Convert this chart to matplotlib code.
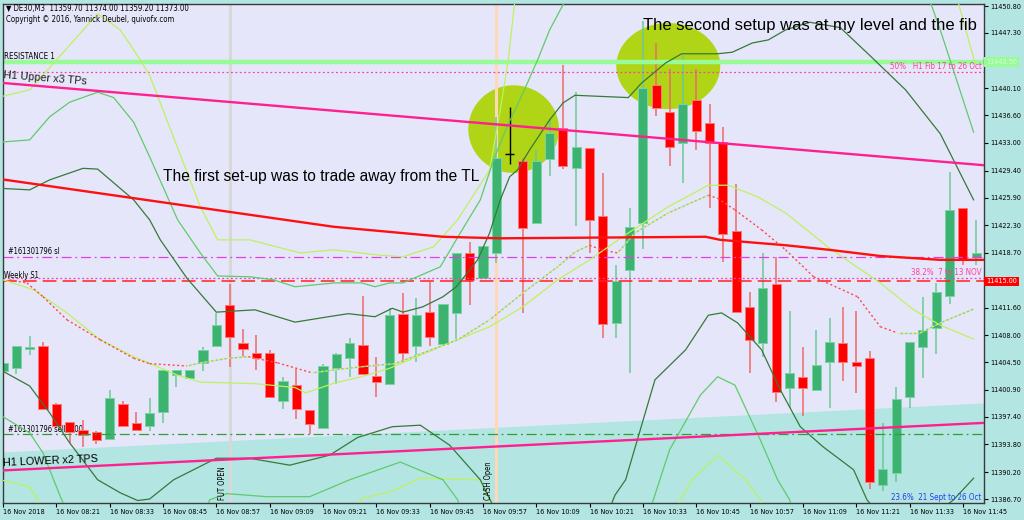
import matplotlib
matplotlib.use("Agg")
import matplotlib.pyplot as plt
from matplotlib.patches import Ellipse
from matplotlib import font_manager
import matplotlib.transforms as mtransforms

# ---------------- data ----------------
opens = [11403.4, 11403.7, 11406.2, 11406.6, 11399.1, 11396.7, 11395.7, 11395.4, 11394.5, 11399.1,
         11396.6, 11396.2, 11398.0, 11402.8, 11402.4, 11404.4, 11406.6, 11411.9, 11407.0, 11405.7,
         11405.7, 11399.5, 11401.5, 11398.3, 11395.9, 11403.7, 11405.0, 11406.7, 11402.7, 11401.7,
         11410.8, 11406.6, 11411.0, 11406.9, 11410.9, 11418.7, 11415.4, 11418.7, 11431.6, 11430.7,
         11422.6, 11430.9, 11435.0, 11429.7, 11432.4, 11423.5, 11409.6, 11416.5, 11422.6, 11440.5,
         11437.0, 11433.0, 11438.6, 11435.6, 11433.1, 11421.6, 11411.7, 11407.0, 11414.7, 11401.1,
         11402.6, 11400.9, 11404.5, 11407.0, 11404.5, 11405.0, 11388.5, 11390.1, 11400.0, 11406.5,
         11409.0, 11413.1, 11424.5, 11418.2]
highs = [11405.6, 11406.6, 11407.9, 11407.1, 11399.2, 11396.7, 11397.0, 11395.5, 11400.9, 11399.5,
         11398.0, 11399.8, 11403.5, 11403.5, 11403.5, 11406.5, 11410.9, 11414.7, 11408.8, 11408.0,
         11406.1, 11402.6, 11403.6, 11398.3, 11404.3, 11405.7, 11407.6, 11413.1, 11405.2, 11411.5,
         11413.5, 11412.8, 11414.9, 11412.1, 11418.7, 11420.1, 11419.6, 11436.4, 11437.7, 11431.1,
         11432.1, 11436.3, 11443.1, 11439.6, 11432.4, 11429.1, 11417.1, 11424.5, 11448.8, 11446.0,
         11442.6, 11444.4, 11442.6, 11438.1, 11435.1, 11427.7, 11413.6, 11418.7, 11418.2, 11411.2,
         11406.5, 11408.7, 11410.2, 11411.7, 11411.2, 11406.0, 11396.6, 11401.3, 11407.1, 11413.0,
         11414.8, 11429.2, 11424.5, 11423.0]
lows = [11403.0, 11403.0, 11405.4, 11398.4, 11396.2, 11394.0, 11393.5, 11393.9, 11394.5, 11396.2,
        11395.7, 11395.5, 11396.6, 11401.3, 11402.3, 11403.4, 11406.6, 11403.9, 11405.2, 11403.5,
        11400.0, 11398.4, 11397.1, 11395.2, 11395.9, 11401.7, 11402.6, 11403.0, 11400.0, 11401.7,
        11404.4, 11404.5, 11406.6, 11406.6, 11407.5, 11411.9, 11415.4, 11417.4, 11430.3, 11410.9,
        11422.6, 11428.7, 11429.6, 11422.2, 11418.7, 11407.6, 11407.6, 11403.1, 11419.2, 11436.5,
        11430.0, 11427.8, 11432.1, 11424.5, 11417.5, 11410.9, 11403.1, 11405.2, 11399.3, 11398.5,
        11397.5, 11400.9, 11398.5, 11402.0, 11400.5, 11388.0, 11387.7, 11388.9, 11398.5, 11402.4,
        11405.6, 11412.1, 11417.1, 11417.1]
closes = [11404.4, 11406.6, 11406.5, 11398.4, 11396.2, 11395.4, 11395.0, 11394.4, 11399.8, 11396.2,
          11395.7, 11397.9, 11403.5, 11403.5, 11403.5, 11406.1, 11409.3, 11407.8, 11406.2, 11405.0,
          11400.0, 11402.1, 11398.4, 11396.5, 11404.0, 11405.6, 11407.0, 11403.0, 11401.9, 11410.6,
          11405.7, 11410.6, 11407.8, 11412.1, 11418.7, 11415.2, 11419.6, 11431.0, 11431.6, 11421.9,
          11430.7, 11434.3, 11430.0, 11432.5, 11423.0, 11409.5, 11415.0, 11422.1, 11440.2, 11437.5,
          11432.5, 11438.1, 11434.6, 11433.0, 11421.2, 11411.0, 11407.4, 11414.1, 11400.6, 11403.1,
          11401.1, 11404.1, 11407.1, 11404.5, 11404.0, 11388.9, 11390.6, 11399.7, 11407.1, 11408.7,
          11413.6, 11424.3, 11417.8, 11418.7]

time_labels = ["16 Nov 2018", "16 Nov 08:21", "16 Nov 08:33", "16 Nov 08:45", "16 Nov 08:57",
               "16 Nov 09:09", "16 Nov 09:21", "16 Nov 09:33", "16 Nov 09:45", "16 Nov 09:57",
               "16 Nov 10:09", "16 Nov 10:21", "16 Nov 10:33", "16 Nov 10:45", "16 Nov 10:57",
               "16 Nov 11:09", "16 Nov 11:21", "16 Nov 11:33", "16 Nov 11:45"]
price_ticks = [11450.80, 11447.30, 11440.10, 11436.60, 11433.00, 11429.40, 11425.90, 11422.30,
               11418.70, 11411.60, 11408.00, 11404.50, 11400.90, 11397.40, 11393.80, 11390.20, 11386.70]

# indicator lines (bar index, price)
dk_up_x = [-0.2, 2.0, 3.5, 6.0, 7.1, 9.8, 11.0, 11.8, 13.8, 16.0, 18.9, 21.9, 24.4, 25.9, 27.9, 29.2,
           30.0, 31.5, 33.0, 34.0, 35.6, 36.5, 37.3, 38.0, 38.6, 39.5, 41.0, 42.0, 42.9, 46.9, 47.9,
           49.7, 50.9, 53.6, 54.7, 56.2, 57.4, 58.7, 60.5, 62.8, 65.0, 67.7, 70.3, 72.8]
dk_up_y = [11427.1, 11426.9, 11428.2, 11429.7, 11429.6, 11425.6, 11423.0, 11420.4, 11415.4, 11411.0,
           11411.3, 11409.7, 11410.4, 11410.8, 11410.4, 11411.5, 11411.0, 11411.7, 11413.0, 11414.3,
           11417.8, 11421.3, 11425.6, 11428.6, 11429.5, 11432.1, 11436.0, 11438.2, 11439.2, 11438.9,
           11440.8, 11443.4, 11444.6, 11444.6, 11444.8, 11446.0, 11446.4, 11447.7, 11448.7, 11448.0,
           11444.4, 11439.9, 11434.2, 11425.6]
dk_lo_x = [-0.2, 2.0, 3.5, 5.0, 7.1, 8.8, 10.1, 11.0, 12.8, 16.0, 18.5, 21.5, 24.5, 26.6, 29.2, 31.3,
           33.5, 35.8, 36.9, 38.8, 44.0, 45.9, 46.7, 48.9, 51.2, 52.9, 53.9, 55.1, 56.9, 58.3, 59.8,
           61.5, 63.8, 64.8, 67.3, 70.3, 71.3, 72.8]
dk_lo_y = [11403.5, 11401.4, 11397.9, 11394.0, 11389.2, 11387.5, 11386.5, 11386.7, 11389.2, 11392.0,
           11392.0, 11391.1, 11392.4, 11394.7, 11396.1, 11396.3, 11393.7, 11389.2, 11385.3, 11378.8,
           11378.8, 11387.2, 11389.2, 11402.2, 11406.1, 11410.6, 11410.9, 11409.6, 11406.1, 11400.9,
           11396.1, 11393.5, 11390.5, 11386.6, 11381.4, 11385.3, 11386.6, 11389.4]
md_up_x = [-0.2, 2.0, 3.5, 5.0, 7.1, 8.3, 9.8, 11.0, 13.1, 14.8, 16.1, 18.5, 20.3, 21.9, 24.9, 26.9,
           27.9, 29.0, 30.0, 32.8, 34.3, 35.8, 36.8, 37.8, 39.0, 40.1, 41.0, 42.2, 43.3, 67.3, 69.5,
           70.3, 72.8]
md_up_y = [11433.1, 11433.4, 11436.4, 11438.3, 11439.6, 11438.9, 11435.7, 11431.2, 11423.0, 11418.7,
           11415.7, 11415.6, 11415.2, 11414.3, 11414.8, 11414.8, 11414.3, 11414.8, 11414.8, 11416.9,
           11421.3, 11425.6, 11430.8, 11435.1, 11439.5, 11443.8, 11447.7, 11451.6, 11456.8, 11456.8,
           11451.6, 11447.7, 11434.4]
md_lo_x = [-0.2, 2.0, 3.0, 3.8, 4.4, 5.8, 14.4, 15.5, 16.8, 19.8, 23.0, 26.0, 29.8, 33.0, 34.1, 35.0,
           47.8, 50.0, 52.3, 53.6, 54.9, 56.8, 58.1, 59.0, 59.8, 73.6]
md_lo_y = [11397.6, 11395.3, 11392.7, 11389.2, 11386.6, 11381.4, 11381.4, 11386.6, 11387.4, 11387.0,
           11387.0, 11389.2, 11391.5, 11389.2, 11386.6, 11381.4, 11381.4, 11393.1, 11400.2, 11402.6,
           11401.5, 11394.4, 11389.2, 11386.6, 11381.4, 11381.4]
ch_up_x = [-0.2, 2.0, 7.1, 8.8, 10.3, 11.0, 14.8, 16.1, 18.5, 22.3, 24.8, 28.3, 30.0, 32.3, 34.1, 36.5,
           37.3, 37.9, 38.4, 38.9, 70.7, 71.6, 72.9]
ch_up_y = [11439.0, 11439.9, 11449.8, 11447.7, 11443.8, 11441.8, 11424.7, 11420.4, 11420.4, 11418.7,
           11419.1, 11418.4, 11418.2, 11419.5, 11423.0, 11429.5, 11437.3, 11443.8, 11451.6, 11456.8,
           11456.8, 11451.6, 11443.4]
ch_lo_x = [-0.2, 2.0, 2.6, 3.2, 25.7, 26.9, 29.0, 31.3, 35.8, 36.5, 37.3, 50.0, 50.8, 51.7, 53.6, 55.7,
           56.8, 57.5, 73.6]
ch_lo_y = [11389.2, 11388.3, 11386.6, 11381.4, 11381.4, 11386.8, 11387.6, 11389.4, 11389.2, 11386.6,
           11381.4, 11381.4, 11386.6, 11389.2, 11392.4, 11389.2, 11386.6, 11381.4, 11381.4]
ch_mid_x = [0.0, 2.3, 4.8, 7.3, 9.8, 11.6, 13.1, 14.8, 18.9, 21.9, 22.7, 24.9, 26.9, 29.0, 32.8, 36.5,
            39.0, 41.6, 44.0, 46.9, 49.9, 52.9, 54.4, 56.6, 58.7, 62.0, 65.8, 68.3, 70.3, 72.8]
ch_mid_y = [11415.2, 11413.9, 11410.9, 11407.4, 11405.2, 11403.9, 11402.8, 11401.9, 11401.7, 11401.2,
            11400.5, 11401.8, 11402.6, 11403.7, 11406.5, 11409.1, 11411.7, 11415.2, 11417.8, 11421.3,
            11424.7, 11427.5, 11427.5, 11426.0, 11423.9, 11419.3, 11414.8, 11411.3, 11409.3, 11407.5]
ma_dot_x = [0.5, 1.8, 3.0, 4.8, 7.3, 9.8, 11.0, 13.8, 14.8, 16.9, 18.4, 20.6, 23.2, 24.9, 26.9, 29.4,
            34.1, 36.5, 39.0, 41.6, 42.9, 44.0, 44.9, 46.1, 47.4, 49.9, 52.9, 53.6, 54.9, 56.9, 58.7,
            60.8, 64.1, 65.8, 67.1, 68.8, 70.3, 72.8]
ma_dot_y = [11415.2, 11414.8, 11413.0, 11410.0, 11407.4, 11405.0, 11404.3, 11404.0, 11404.4, 11405.0,
            11405.2, 11404.4, 11403.1, 11403.5, 11403.9, 11404.3, 11407.4, 11410.0, 11413.5, 11416.9,
            11418.8, 11419.7, 11419.1, 11418.7, 11421.3, 11423.9, 11426.2, 11425.8, 11424.3, 11421.7,
            11419.1, 11415.6, 11413.0, 11409.1, 11408.3, 11408.3, 11409.6, 11411.4]
ma_red_x = [-0.2, 12.3, 24.8, 33.0, 37.3, 52.7, 53.8, 58.7, 62.0, 65.8, 70.3, 73.6]
ma_red_y = [11428.3, 11425.2, 11422.1, 11420.8, 11420.6, 11420.8, 11420.4, 11419.7, 11419.1, 11418.3,
            11417.8, 11417.8]
tl_up_x = [0.0, 73.6]
tl_up_y = [11440.8, 11430.1]
tl_lo_x = [-0.2, 73.6]
tl_lo_y = [11390.4, 11396.6]
channel_x = [-0.2, 73.6]
channel_top = [11392.8, 11399.2]

resistance1 = 11443.5
fib50 = 11442.2
stop_loss = 11418.2
fib382 = 11415.4
weekly_s1 = 11415.0
sell_entry = 11395.2
fut_open_bar = 17
cash_open_bar = 37
setup_bars = [38.3, 49.9]
setup_prices = [11434.8, 11443.0]

# ---------------- fonts ----------------
fl = font_manager.fontManager.ttflist
names = {f.name for f in fl}
stretch = 'normal'
if 'Liberation Sans Narrow' in names:
    small_fam = ['Liberation Sans Narrow', 'DejaVu Sans']
elif any(f.name == 'DejaVu Sans' and str(f.stretch) in ('condensed', 'semi-condensed') for f in fl):
    small_fam = ['DejaVu Sans']
    stretch = 'condensed'
else:
    small_fam = ['Liberation Sans', 'DejaVu Sans']
plt.rcParams['font.family'] = small_fam
plt.rcParams['font.stretch'] = stretch

LAV = '#E6E6FA'
TEAL = '#B3E5E2'
DK = '#357A38'
MD = '#5FCB6A'
CH = '#BDF25E'
PINK = '#FF2090'

fig = plt.figure(figsize=(10.24, 5.2), dpi=100, facecolor=TEAL)
renderer = fig.canvas.get_renderer()


def fit_size(sample, target_px, family=None):
    t = fig.text(0, 0, sample, fontsize=10, family=family or small_fam)
    w = t.get_window_extent(renderer=renderer).width
    t.remove()
    return 10.0 * target_px / w


ytick_fs = fit_size('11447.30', 31)
xtick_fs = fit_size('16 Nov 08:21', 44)
big1_fs = fit_size('The first set-up was to trade away from the TL', 317, ['Liberation Sans', 'DejaVu Sans'])
big2_fs = fit_size('The second setup was at my level and the fib', 334, ['Liberation Sans', 'DejaVu Sans'])
hdr_fs = fit_size('\u25bc DE30,M3  11359.70 11374.00 11359.20 11373.00', 182)
lbl_fs = fit_size('#161301796 sl', 52)
pink_fs = fit_size('50%   H1 Fib 17 to 26 Oct', 92)

ax = fig.add_axes([3 / 1024, 17 / 520, 981 / 1024, 499 / 520])
ax.set_facecolor(LAV)
ymin, ymax = 11386.18, 11451.07
ax.set_xlim(0, 73.58)
ax.set_ylim(ymin, ymax)

# channel fill
ax.fill_between(channel_x, channel_top, [ymin - 5, ymin - 5], color=TEAL, lw=0, zorder=0.3)

# setup circles
for bx, py, w, h in zip(setup_bars, setup_prices, [6.8, 7.8], [11.4, 11.2]):
    ax.add_patch(Ellipse((bx, py), w, h, facecolor='#B0D416', edgecolor='none', zorder=0.6))

# vertical lines
ax.axvline(fut_open_bar, color='#D8D8D8', lw=2.2, zorder=0.8)
ax.axvline(cash_open_bar, color='#FFD8B8', lw=2.2, zorder=0.8)
ax.text(fut_open_bar - 0.55, ymin + 0.35, 'FUT OPEN', rotation=90, fontsize=lbl_fs,
        ha='center', va='bottom', zorder=5)
ax.text(cash_open_bar - 0.55, ymin + 0.35, 'CASH Open', rotation=90, fontsize=lbl_fs,
        ha='center', va='bottom', zorder=5)

# horizontal levels
ax.axhline(resistance1, color='#98FB98', lw=3.2, zorder=2.5)
ax.axhline(fib50, color='#FF3FA0', lw=0.9, ls=(0, (1.5, 2)), zorder=2.5)
ax.axhline(stop_loss, color='#E040E0', lw=0.9, ls=(0, (8, 3, 1.5, 3)), zorder=2.5)
ax.axhline(fib382, color='#FF3FA0', lw=0.9, ls=(0, (1.5, 2)), zorder=2.5)
ax.axhline(weekly_s1, color='#FF2020', lw=1.1, ls=(0, (9, 4)), zorder=2.5)
ax.axhline(sell_entry, color='#2FA02F', lw=0.9, ls=(0, (8, 3, 1.5, 3)), zorder=2.5)

# labels on levels
ax.text(0.05, resistance1 + 0.75, 'RESISTANCE 1', fontsize=lbl_fs * 1.05, va='center', zorder=5)
ax.text(0.0, 11441.4, 'H1 Upper x3 TPs', fontsize=7.8, va='center', rotation=-4.5,
        color='#202020', family=['Liberation Sans', 'DejaVu Sans'], zorder=5)
ax.text(0.4, stop_loss + 0.65, '#161301796 sl', fontsize=lbl_fs, va='center', zorder=5)
ax.text(0.05, 11415.75, 'Weekly S1', fontsize=lbl_fs, va='center', zorder=5)
ax.text(0.4, sell_entry + 0.55, '#161301796 sell 0.00', fontsize=lbl_fs, va='center', zorder=1.5)
ax.text(0.0, 11391.6, 'H1 LOWER x2 TPS', fontsize=7.8, va='center', rotation=2.5,
        family=['Liberation Sans', 'DejaVu Sans'], zorder=5)
ax.text(73.4, 11442.9, '50%   H1 Fib 17 to 26 Oct', fontsize=pink_fs, va='center', ha='right',
        color='#FF3FA0', zorder=5)
ax.text(73.4, 11416.1, '38.2%  7 to 13 NOV', fontsize=pink_fs, va='center', ha='right',
        color='#FF3FA0', zorder=5)
ax.text(73.4, 11386.85, '23.6%  21 Sept to 26 Oct', fontsize=pink_fs, va='center', ha='right',
        color='#2040F0', zorder=5)

# candles
xs = list(range(len(opens)))
up_col, dn_col = '#3CB371', '#FF0000'
for i in xs:
    o, h, l, c = opens[i], highs[i], lows[i], closes[i]
    if abs(c - o) < 0.05:
        ax.vlines(i, l, h, color='black', lw=1.0, zorder=2)
        ax.hlines(o, i - 0.34, i + 0.34, color='black', lw=1.0, zorder=2)
        continue
    up = c > o
    ax.vlines(i, l, h, color='#6CC898' if up else '#F06A6A', lw=1.1, zorder=1.9)
    ax.bar(i, abs(c - o), bottom=min(o, c), width=0.68,
           color=up_col if up else dn_col,
           edgecolor='#7AD4A4' if up else '#FF7878', lw=0.7, zorder=2)

# indicator lines
ax.plot(ch_up_x, ch_up_y, color=CH, lw=0.9, zorder=3)
ax.plot(ch_lo_x, ch_lo_y, color=CH, lw=0.9, zorder=3)
ax.plot(ch_mid_x, ch_mid_y, color=CH, lw=0.9, zorder=3)
ax.plot(md_up_x, md_up_y, color=MD, lw=0.9, zorder=3)
ax.plot(md_lo_x, md_lo_y, color=MD, lw=0.9, zorder=3)
ax.plot(dk_up_x, dk_up_y, color=DK, lw=0.9, zorder=3)
ax.plot(dk_lo_x, dk_lo_y, color=DK, lw=0.9, zorder=3)
for k in range(len(ma_dot_x) - 1):
    sx = ma_dot_x[k:k + 2]
    sy = ma_dot_y[k:k + 2]
    if sy[1] < sy[0]:
        ax.plot(sx, sy, color='#FF4848', lw=1.0, ls=(0, (1.5, 1.8)), zorder=3)
    else:
        ax.plot(sx, sy, color='#F2EE3A', lw=1.0, ls=(0, (1.6, 1.6)), zorder=3)
        ax.plot(sx, sy, color='#7CC8C0', lw=1.0, ls=(1.6, (1.6, 1.6)), zorder=3)
ax.plot(ma_red_x, ma_red_y, color='#FF1010', lw=1.7, zorder=3.1)
ax.plot(tl_up_x, tl_up_y, color=PINK, lw=1.7, zorder=3.2)
ax.plot(tl_lo_x, tl_lo_y, color=PINK, lw=1.7, zorder=3.2)

# annotations
ax.text(12.0, 11428.6, 'The first set-up was to trade away from the TL', fontsize=big1_fs,
        family=['Liberation Sans', 'DejaVu Sans'], va='center', ha='left', zorder=5)
ax.text(48.0, 11448.3, 'The second setup was at my level and the fib', fontsize=big2_fs,
        family=['Liberation Sans', 'DejaVu Sans'], va='center', ha='left', zorder=5)

# header
ax.text(0.003, 0.991, '\u25bc DE30,M3  11359.70 11374.00 11359.20 11373.00', transform=ax.transAxes,
        fontsize=hdr_fs, va='center', ha='left', zorder=6)
ax.text(0.003, 0.969, 'Copyright \u00a9 2016, Yannick Deubel, quivofx.com', transform=ax.transAxes,
        fontsize=hdr_fs, va='center', ha='left', zorder=6)

# axes / ticks
for s in ax.spines.values():
    s.set_color('#3A3A3A')
    s.set_linewidth(1.0)
ax.yaxis.tick_right()
ax.set_yticks(price_ticks)
ax.set_yticklabels([f'{p:.2f}' for p in price_ticks])
ax.tick_params(axis='y', length=3, width=0.8, pad=1.5, labelsize=ytick_fs, colors='black')
ax.set_xticks(list(range(0, len(opens), 4)))
ax.set_xticklabels(time_labels)
for lab in ax.get_xticklabels():
    lab.set_horizontalalignment('left')
ax.tick_params(axis='x', length=3, width=0.8, pad=1.5, labelsize=xtick_fs, colors='black')

trans = mtransforms.blended_transform_factory(ax.transAxes, ax.transData)
ax.text(1.002, resistance1, '11443.50', transform=trans, fontsize=ytick_fs, va='center', ha='left',
        color='#D8FFD8', bbox=dict(boxstyle='square,pad=0.25', fc='#98FB98', ec='none'), zorder=6)
ax.text(1.002, weekly_s1, '11415.00', transform=trans, fontsize=ytick_fs, va='center', ha='left',
        color='white', bbox=dict(boxstyle='square,pad=0.25', fc='#FF0000', ec='none'), zorder=6)

fig.savefig('out.png', dpi=100, facecolor=TEAL)
